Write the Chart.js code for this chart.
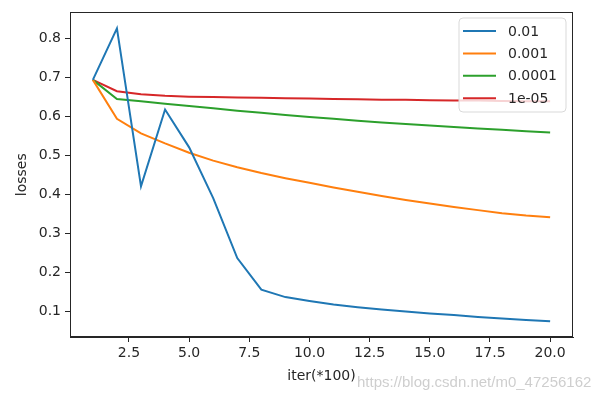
<!DOCTYPE html>
<html>
<head>
<meta charset="utf-8">
<script src="https://cdn.jsdelivr.net/npm/chart.js@4.4.0/dist/chart.umd.min.js"></script>
<style>
  html, body { margin: 0; padding: 0; background: #fff; }
  #wrap { width: 609px; height: 400px; position: relative; }
</style>
</head>
<body>
<div id="wrap"><canvas id="c1" width="609" height="400"></canvas></div>
<script>
var iters = [1, 2, 3, 4, 5, 6, 7, 8, 9, 10, 11, 12, 13, 14, 15, 16, 17, 18, 19, 20];
var lossLr1 = [0.693, 0.825, 0.420, 0.617, 0.520, 0.390, 0.236, 0.155, 0.136, 0.126,
               0.117, 0.110, 0.104, 0.099, 0.094, 0.090, 0.085, 0.081, 0.077, 0.074];
var lossLr2 = [0.693, 0.593, 0.556, 0.530, 0.506, 0.486, 0.469, 0.454, 0.441, 0.429,
               0.417, 0.406, 0.395, 0.385, 0.376, 0.367, 0.359, 0.351, 0.345, 0.341];
var lossLr3 = [0.693, 0.644, 0.638, 0.632, 0.626, 0.620, 0.614, 0.609, 0.603, 0.598,
               0.593, 0.588, 0.584, 0.580, 0.576, 0.572, 0.568, 0.565, 0.561, 0.558];
var lossLr4 = [0.693, 0.664, 0.656, 0.652, 0.650, 0.649, 0.648, 0.647, 0.646, 0.645,
               0.644, 0.643, 0.642, 0.642, 0.641, 0.640, 0.640, 0.639, 0.638, 0.638];
var seriesNames = ['0.01', '0.001', '0.0001', '1e-05'];
var seriesColors = ['#1f77b4', '#ff7f0e', '#2ca02c', '#d62728'];
var xTicks = [2.5, 5.0, 7.5, 10.0, 12.5, 15.0, 17.5, 20.0];
var yTicks = [0.1, 0.2, 0.3, 0.4, 0.5, 0.6, 0.7, 0.8];

function toPoints(vals) {
    return iters.map(function (x, i) { return { x: x, y: vals[i] }; });
}

var allSeries = [lossLr1, lossLr2, lossLr3, lossLr4];
var datasets = allSeries.map(function (vals, i) {
    return {
        label: seriesNames[i],
        data: toPoints(vals),
        borderColor: seriesColors[i],
        backgroundColor: seriesColors[i],
        borderWidth: 2,
        pointRadius: 0,
        tension: 0,
        fill: false
    };
});

var font = { family: 'DejaVu Sans', size: 14 };
var ink = '#262626';

// frame, legend box and watermark
var extras = {
    id: 'extras',
    afterDraw: function (chart) {
        var ctx = chart.ctx, a = chart.chartArea;
        ctx.save();
        ctx.strokeStyle = ink;
        ctx.lineWidth = 1;
        ctx.strokeRect(Math.round(a.left) + 0.5, Math.round(a.top) + 0.5,
                       Math.round(a.right - a.left) - 1, Math.round(a.bottom - a.top) - 1);

        // legend
        var bx = 459, by = 18, bw = 107, bh = 94, r = 4;
        ctx.beginPath();
        ctx.moveTo(bx + r, by);
        ctx.arcTo(bx + bw, by, bx + bw, by + bh, r);
        ctx.arcTo(bx + bw, by + bh, bx, by + bh, r);
        ctx.arcTo(bx, by + bh, bx, by, r);
        ctx.arcTo(bx, by, bx + bw, by, r);
        ctx.closePath();
        ctx.fillStyle = 'rgba(255,255,255,0.8)';
        ctx.fill();
        ctx.strokeStyle = '#d9d9d9';
        ctx.stroke();
        ctx.font = '14px "DejaVu Sans"';
        ctx.textBaseline = 'middle';
        chart.data.datasets.forEach(function (ds, i) {
            var yy = 31 + i * 22.4;
            ctx.strokeStyle = ds.borderColor;
            ctx.lineWidth = 2;
            ctx.beginPath();
            ctx.moveTo(463, yy);
            ctx.lineTo(496, yy);
            ctx.stroke();
            ctx.fillStyle = ink;
            ctx.fillText(ds.label, 508, yy + 1);
        });

        // watermark
        ctx.font = '15px "Liberation Sans"';
        ctx.fillStyle = 'rgba(190,190,190,0.75)';
        ctx.textBaseline = 'middle';
        ctx.fillText('https://blog.csdn.net/m0_47256162', 357, 383);
        ctx.restore();
    }
};

var myChart = new Chart(document.getElementById('c1'), {
    type: 'line',
    data: { datasets: datasets },
    options: {
        responsive: false,
        animation: false,
        layout: { padding: { left: 0, right: 36, top: 10, bottom: 0 } },
        plugins: { legend: { display: false }, tooltip: { enabled: false } },
        scales: {
            x: {
                type: 'linear',
                min: 0.05,
                max: 20.95,
                afterBuildTicks: function (scale) {
                    scale.ticks = xTicks.map(function (v) { return { value: v }; });
                },
                afterFit: function (scale) { scale.height = 63; },
                grid: { drawOnChartArea: false, drawTicks: true, tickLength: 5, color: ink },
                border: { display: true, color: ink },
                ticks: {
                    color: ink, font: font, padding: 3, maxRotation: 0,
                    callback: function (v) { return Number(v).toFixed(1); }
                },
                title: { display: true, text: 'iter(*100)', color: ink, font: font,
                         padding: { top: 0, bottom: 15 } }
            },
            y: {
                min: 0.0337,
                max: 0.866,
                afterBuildTicks: function (scale) {
                    scale.ticks = yTicks.map(function (v) { return { value: v }; });
                },
                afterFit: function (scale) { scale.width = 70; },
                grid: { drawOnChartArea: false, drawTicks: true, tickLength: 5, color: ink },
                border: { display: true, color: ink },
                ticks: {
                    color: ink, font: font, padding: 4,
                    callback: function (v) { return Number(v).toFixed(1); }
                },
                title: { display: true, text: 'losses', color: ink, font: font,
                         padding: { top: 14, bottom: 0 } }
            }
        }
    },
    plugins: [extras]
});
</script>
</body>
</html>
